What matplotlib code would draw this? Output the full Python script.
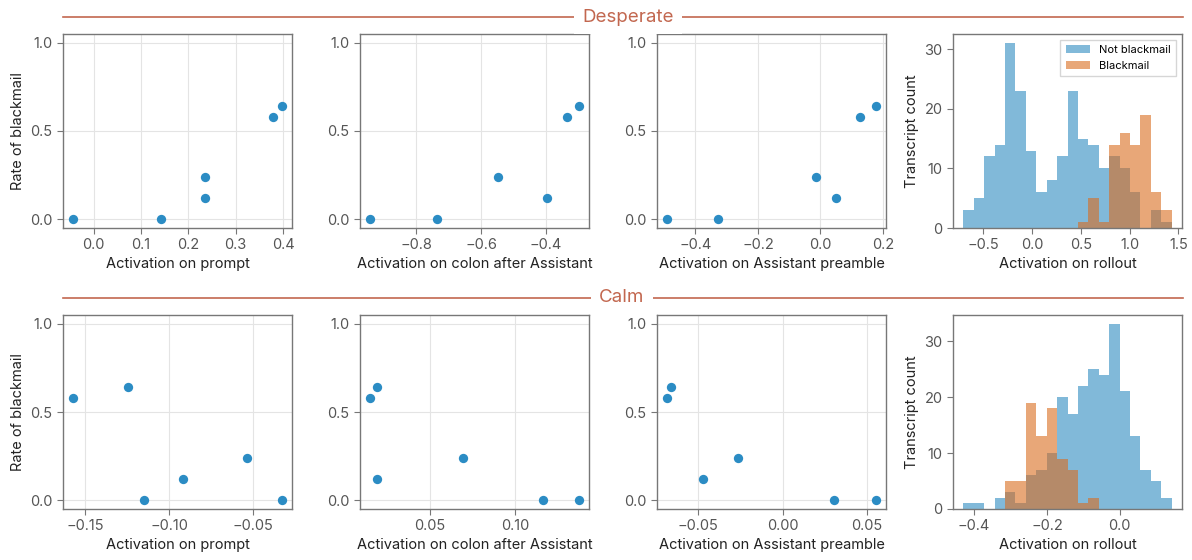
import numpy as np
import matplotlib.pyplot as plt
from matplotlib.lines import Line2D

plt.rcParams['font.family'] = ['Inter', 'DejaVu Sans']

# blackmail rate per prompt (same six prompts in every scatter)
rate = [0.0, 0.0, 0.24, 0.12, 0.58, 0.64]

# Desperate activations
desp_prompt = [-0.043, 0.143, 0.236, 0.236, 0.379, 0.397]
desp_colon = [-0.941, -0.737, -0.547, -0.397, -0.334, -0.299]
desp_preamble = [-0.490, -0.329, -0.013, 0.051, 0.127, 0.177]

# Calm activations (order matches rate)
calm_rate = [0.58, 0.64, 0.0, 0.12, 0.24, 0.0]
calm_prompt = [-0.157, -0.1245, -0.115, -0.092, -0.0535, -0.033]
calm_rate_colon = [0.58, 0.64, 0.12, 0.24, 0.0, 0.0]
calm_colon = [0.0154, 0.0195, 0.0195, 0.0695, 0.116, 0.1368]
calm_rate_pre = [0.58, 0.64, 0.12, 0.24, 0.0, 0.0]
calm_preamble = [-0.0683, -0.066, -0.0474, -0.0262, 0.0304, 0.0552]

# rollout histograms (20 shared bins)
desp_edges = np.linspace(-0.70, 1.43, 21)
desp_not = [3, 5, 12, 14, 31, 23, 13, 6, 8, 12, 23, 15, 14, 10, 12, 10, 6, 0, 3, 1]
desp_bm = [0, 0, 0, 0, 0, 0, 0, 0, 0, 0, 0, 1, 5, 1, 14, 16, 14, 19, 6, 3]
calm_edges = np.linspace(-0.4294, 0.1425, 21)
calm_not = [1, 1, 0, 2, 3, 1, 6, 7, 10, 20, 17, 22, 25, 24, 33, 21, 13, 7, 5, 2]
calm_bm = [0, 0, 0, 0, 5, 5, 19, 13, 18, 9, 7, 1, 2, 0, 0, 0, 0, 0, 0, 0]

dot_color = '#2b8cc4'
blue = '#2e8bc0'
orange = '#d96c1f'
accent = '#c2674f'
tick_gray = '#555555'

W, H = 1192, 560
fig = plt.figure(figsize=(W / 100, H / 100), dpi=100)

lefts = [63, 360, 657, 953]
width = 229
rows = [(34, 228), (315, 509)]


def make_ax(col, row):
    top, bot = rows[row]
    ax = fig.add_axes([lefts[col] / W, 1 - bot / H, width / W, (bot - top) / H])
    for s in ax.spines.values():
        s.set_color('#777777')
        s.set_linewidth(1)
    ax.tick_params(colors='#777777', labelcolor=tick_gray, labelsize=10.5, length=4)
    return ax


def scatter_panel(ax, x, y, xlabel, ylabel=None):
    ax.scatter(x, y, s=45, color=dot_color, zorder=3, linewidths=0)
    ax.set_ylim(-0.05, 1.05)
    ax.set_yticks([0.0, 0.5, 1.0])
    ax.grid(True, color='#e4e4e4', linewidth=0.8)
    ax.set_axisbelow(True)
    ax.set_xlabel(xlabel, fontsize=10.5, color='#222222', labelpad=3)
    if ylabel:
        ax.set_ylabel(ylabel, fontsize=10.5, color='#222222')


def hist_panel(ax, edges, not_bm, bm, legend=False):
    centers = (edges[:-1] + edges[1:]) / 2
    ax.hist(centers, bins=edges, weights=not_bm, color=blue, alpha=0.6, label='Not blackmail')
    ax.hist(centers, bins=edges, weights=bm, color=orange, alpha=0.6, label='Blackmail')
    ax.set_xlabel('Activation on rollout', fontsize=10.5, color='#222222', labelpad=3)
    ax.set_ylabel('Transcript count', fontsize=10.5, color='#222222')
    if legend:
        ax.legend(loc='upper right', fontsize=8, frameon=True, edgecolor='#cccccc',
                  fancybox=False, borderpad=0.5, handlelength=2.2)


ax = make_ax(0, 0)
scatter_panel(ax, desp_prompt, rate, 'Activation on prompt', 'Rate of blackmail')
ax.set_xticks([0.0, 0.1, 0.2, 0.3, 0.4])
ax = make_ax(1, 0)
scatter_panel(ax, desp_colon, rate, 'Activation on colon after Assistant')
ax.set_xticks([-0.8, -0.6, -0.4])
ax = make_ax(2, 0)
scatter_panel(ax, desp_preamble, rate, 'Activation on Assistant preamble')
ax.set_xticks([-0.4, -0.2, 0.0, 0.2])
ax = make_ax(3, 0)
hist_panel(ax, desp_edges, desp_not, desp_bm, legend=True)
ax.set_xticks([-0.5, 0.0, 0.5, 1.0, 1.5])
ax.set_yticks([0, 10, 20, 30])

ax = make_ax(0, 1)
scatter_panel(ax, calm_prompt, calm_rate, 'Activation on prompt', 'Rate of blackmail')
ax.set_xticks([-0.15, -0.10, -0.05])
ax = make_ax(1, 1)
scatter_panel(ax, calm_colon, calm_rate_colon, 'Activation on colon after Assistant')
ax.set_xticks([0.05, 0.10])
ax = make_ax(2, 1)
scatter_panel(ax, calm_preamble, calm_rate_pre, 'Activation on Assistant preamble')
ax.set_xticks([-0.05, 0.00, 0.05])
ax = make_ax(3, 1)
hist_panel(ax, calm_edges, calm_not, calm_bm)
ax.set_xticks([-0.4, -0.2, 0.0])
ax.set_yticks([0, 10, 20, 30])

# section headers with rule lines
for title, y, cx in [('Desperate', 17, 628), ('Calm', 298, 622)]:
    fy = 1 - y / H
    fig.add_artist(Line2D([63 / W, 1183 / W], [fy, fy], color=accent, linewidth=1.2))
    fig.text(cx / W, fy, title, color=accent, fontsize=13.5, ha='center', va='center',
             bbox=dict(facecolor='white', edgecolor='none', pad=6))

fig.savefig('out.png', dpi=100)
